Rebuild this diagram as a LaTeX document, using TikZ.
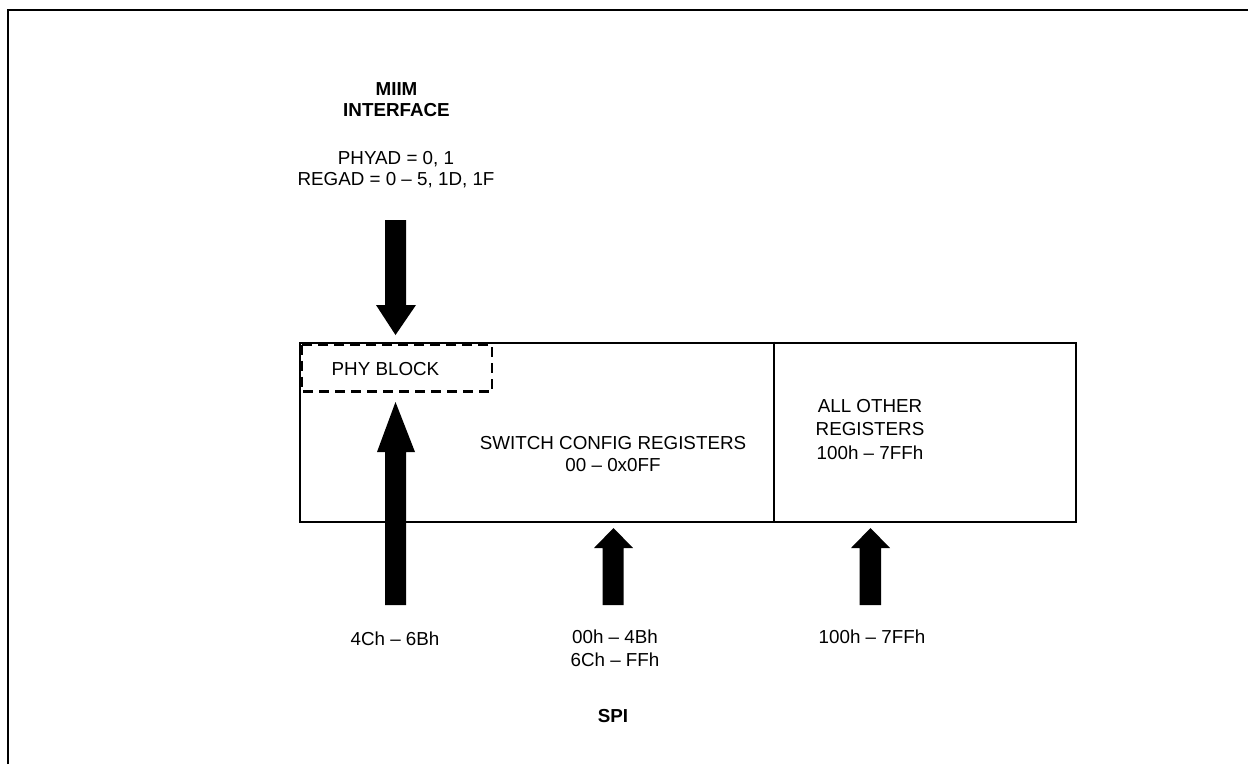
\documentclass[tikz,border=0pt]{standalone}
\usepackage{fontspec}
\setmainfont{Liberation Sans}
\begin{document}
\begin{tikzpicture}[x=1pt,y=-1pt,
  lbl/.style={inner sep=0pt,anchor=north,align=center,font=\fontsize{18.8}{21.5}\selectfont},
  lblb/.style={lbl,font=\fontsize{18.8}{21.5}\selectfont\bfseries},
  boxline/.style={line width=2pt},
  phydash/.style={line width=2.4pt,dash pattern=on 10pt off 6pt},
  blockarrow/.style={fill=black}]
\useasboundingbox (0,0) rectangle (1248,764);
% frame
\draw[line width=2.2pt] (8.3,764) -- (8.3,10.2) -- (1248,10.2);
% main box
\node[draw,boxline,minimum width=776pt,minimum height=179.5pt,anchor=north west,inner sep=0pt] (main) at (299.3,341.5) {};
\coordinate (divtop) at (774,341.5);
\coordinate (divbot) at (774,521);
\draw[boxline] (divtop) -- (divbot);
% PHY block
\draw[phydash] (302,344.5) rectangle (492,391.5);
\node[lbl] (phy) at (385.5,362) {PHY BLOCK};
% texts
\node[lblb] (miim) at (396.5,82) {MIIM\\INTERFACE};
\node[lbl,font=\fontsize{18.8}{21}\selectfont] (phyad) at (396,151) {PHYAD = 0, 1\\REGAD = 0 -- 5, 1D, 1F};
\node[lbl] (sw) at (613,436.5) {SWITCH CONFIG REGISTERS\\00 -- 0x0FF};
\node[lbl,font=\fontsize{18.8}{23.5}\selectfont] (other) at (870,399) {ALL OTHER\\REGISTERS\\100h -- 7FFh};
\node[lbl] (l1) at (395,632) {4Ch -- 6Bh};
\node[lbl,font=\fontsize{18.8}{23}\selectfont] (l2) at (615,630) {00h -- 4Bh\\6Ch -- FFh};
\node[lbl] (l3) at (872,630) {100h -- 7FFh};
\node[lblb] (spi) at (613,709) {SPI};
% arrows
% top (down) arrow
\fill[blockarrow] (385,220) -- (406,220) -- (406,305) -- (416,305) -- (395.5,335) -- (376,305) -- (385,305) -- cycle;
% bottom-left (up) arrow
\fill[blockarrow] (385,605) -- (406,605) -- (406,452) -- (415,452) -- (395.5,402) -- (377,452) -- (385,452) -- cycle;
% middle arrow
\fill[blockarrow] (602.5,605) -- (623.5,605) -- (623.5,548) -- (633,548) -- (613.5,528) -- (594,548) -- (602.5,548) -- cycle;
% right arrow
\fill[blockarrow] (859.5,605) -- (881,605) -- (881,548) -- (890,548) -- (870.5,528) -- (851,548) -- (859.5,548) -- cycle;
\end{tikzpicture}
\end{document}
